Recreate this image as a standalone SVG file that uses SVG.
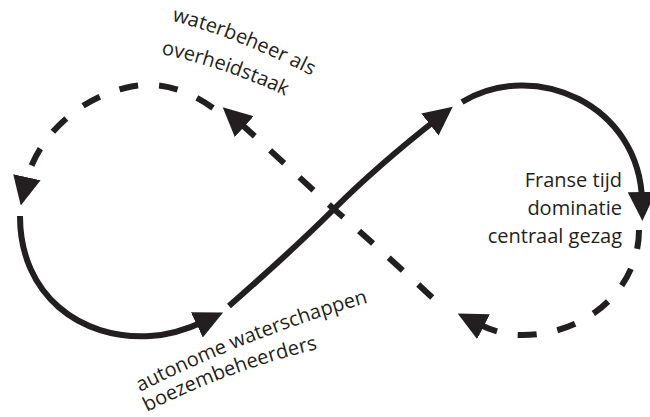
<svg xmlns="http://www.w3.org/2000/svg" width="650" height="417" viewBox="0 0 650 417">
  <style>
    .flow { fill: none; stroke: #231f20; stroke-width: 6; }
    .dash { stroke-dasharray: 19 21; }
    .lbl { font-family: "Open Sans", "Liberation Sans", sans-serif; font-size: 20px; fill: #231f20; }
  </style>
  <defs>
    <marker id="head" markerUnits="userSpaceOnUse" viewBox="0 0 29 28" markerWidth="29" markerHeight="28" refX="9" refY="14" orient="auto">
      <path d="M0,0 L29,14 L0,28 Z" fill="#231f20"/>
    </marker>
    <!-- baselines for the curved labels -->
    <path id="b-top1" d="M172,21 Q232,35 318,79"/>
    <path id="b-top2" d="M161,54 Q225,67 292,99"/>
    <path id="b-bot1" d="M140,392 Q255,334 374,301"/>
    <path id="b-bot2" d="M147,412 Q236,367 327,347"/>
  </defs>

  <g id="connectors">
    <!-- solid loop: lower left, rising diagonal, upper right -->
    <path class="flow" d="M20,216 C20,295 80,340 150,336 C170,335 188,329 205,321" marker-end="url(#head)"/>
    <path class="flow" d="M229,306 C270,270 300,243 333,210 C365,178 400,148 437,119" marker-end="url(#head)"/>
    <path class="flow" d="M462,102 C535,58 640,105 642,201" marker-end="url(#head)"/>
    <!-- dashed loop: lower right, falling diagonal, upper left -->
    <path class="flow dash" d="M639,230 C639,290 585,336 520,335 C505,335 490,330 475.5,322.6" marker-end="url(#head)"/>
    <path class="flow dash" style="stroke-dashoffset:21.5" d="M446,310 C400,268 370,240 335,210 C300,178 270,150 237.5,120.6" marker-end="url(#head)"/>
    <path class="flow dash" d="M213,108 C185,88 155,80 125,88 C75,100 35,140 25,186" marker-end="url(#head)"/>
  </g>

  <g id="state-overheid">
    <text class="lbl"><textPath href="#b-top1">waterbeheer als</textPath></text>
    <text class="lbl"><textPath href="#b-top2">overheidstaak</textPath></text>
  </g>

  <g id="state-franse-tijd">
    <text class="lbl" text-anchor="end" x="622" y="187">Franse tijd</text>
    <text class="lbl" text-anchor="end" x="622" y="215">dominatie</text>
    <text class="lbl" text-anchor="end" x="622" y="243">centraal gezag</text>
  </g>

  <g id="state-autonoom">
    <text class="lbl"><textPath href="#b-bot1">autonome waterschappen</textPath></text>
    <text class="lbl"><textPath href="#b-bot2">boezembeheerders</textPath></text>
  </g>
</svg>
